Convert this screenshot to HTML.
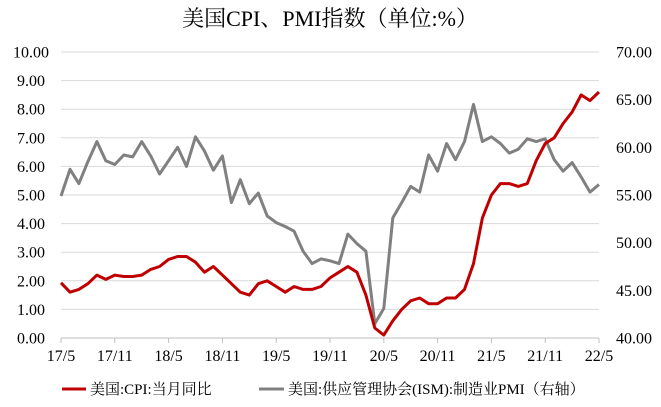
<!DOCTYPE html>
<html><head><meta charset="utf-8"><style>
body{margin:0;background:#fff;width:661px;height:402px;overflow:hidden;font-family:"Liberation Serif","Noto Serif CJK SC",serif;}
svg text{font-family:"Liberation Serif","Noto Serif CJK SC",serif;}
</style></head><body>
<svg id="chart" width="661" height="402" xmlns="http://www.w3.org/2000/svg">
<text x="330" y="26" text-anchor="middle" font-size="22" fill="#000">美国CPI、PMI指数（单位:%）</text>
<g id="grid"></g><g id="axes"></g><g id="series"></g>
<g>
<line x1="62" y1="389" x2="86" y2="389" stroke="#c00000" stroke-width="3"/>
<text x="90" y="394" font-size="15">美国:CPI:当月同比</text>
<line x1="259" y1="389" x2="284" y2="389" stroke="#808080" stroke-width="3"/>
<text x="288" y="394" font-size="15">美国:供应管理协会(ISM):制造业PMI（右轴）</text>
</g>
</svg>
<script>
const months=["17/5","17/11","18/5","18/11","19/5","19/11","20/5","20/11","21/5","21/11","22/5"];
const cpi=[1.93,1.6,1.7,1.9,2.2,2.05,2.2,2.15,2.15,2.2,2.4,2.5,2.75,2.85,2.85,2.65,2.3,2.5,2.2,1.9,1.6,1.5,1.9,2.0,1.8,1.6,1.8,1.7,1.7,1.8,2.1,2.3,2.5,2.3,1.5,0.35,0.1,0.6,1.0,1.3,1.4,1.2,1.2,1.4,1.4,1.7,2.6,4.2,5.0,5.4,5.4,5.3,5.4,6.2,6.8,7.0,7.5,7.9,8.5,8.3,8.6];
const pmi=[54.9,57.7,56.2,58.5,60.6,58.6,58.2,59.2,59.0,60.6,59.1,57.2,58.6,60.0,58.0,61.1,59.6,57.6,59.1,54.2,56.6,54.1,55.2,52.8,52.1,51.7,51.2,49.1,47.8,48.3,48.1,47.8,50.9,49.9,49.1,41.5,43.1,52.6,54.2,55.9,55.3,59.2,57.5,60.4,58.7,60.6,64.5,60.6,61.1,60.4,59.4,59.8,60.9,60.6,60.9,58.7,57.5,58.4,56.9,55.3,56.1];
const leftTicks=[0,1,2,3,4,5,6,7,8,9,10];
const rightTicks=[40,45,50,55,60,65,70];
const NS="http://www.w3.org/2000/svg";
const X0=61,X1=599,Y0=338,Y1=52;
const n=cpi.length;
function xs(i){return X0+(X1-X0)*i/(n-1);}
function yl(v){return Y0-(Y0-Y1)*v/10;}
function yr(v){return Y0-(Y0-Y1)*(v-40)/30;}
function mk(t,a,p){const e=document.createElementNS(NS,t);for(const k in a)e.setAttribute(k,a[k]);p.appendChild(e);return e;}
const grid=document.getElementById('grid'),axes=document.getElementById('axes'),ser=document.getElementById('series');
leftTicks.forEach(v=>{
 if(v>0){const g=mk('line',{x1:X0,x2:X1,y1:yl(v),y2:yl(v),stroke:'#d9d9d9','stroke-width':1},grid);
 
 }
 const t=mk('text',{x:31,y:yl(v)+5.5,'text-anchor':'middle','font-size':16},axes);t.textContent=v.toFixed(2);
 
 
});
rightTicks.forEach(v=>{
 const t=mk('text',{x:634,y:yr(v)+5.5,'text-anchor':'middle','font-size':16},axes);t.textContent=v.toFixed(2);
 
 
});
const ax=mk('line',{x1:X0,x2:X1,y1:Y0,y2:Y0,stroke:'#bfbfbf','stroke-width':1},axes);


months.forEach((m,k)=>{
 const x=xs(k*6);
 const tk=mk('line',{x1:x,x2:x,y1:Y0,y2:Y0+5,stroke:'#bfbfbf'},axes);
 
 
 const t=mk('text',{x:x,y:361,'text-anchor':'middle','font-size':16},axes);t.textContent=m;
 
 
});
function path(arr,f){return arr.map((v,i)=>(i?'L':'M')+xs(i).toFixed(1)+','+f(v).toFixed(1)).join('');}
const pp=mk('path',{d:path(pmi,yr),fill:'none',stroke:'#808080','stroke-width':3,'stroke-linejoin':'round'},ser);


const cp=mk('path',{d:path(cpi,yl),fill:'none',stroke:'#c00000','stroke-width':3,'stroke-linejoin':'round'},ser);


</script>
</body></html>
